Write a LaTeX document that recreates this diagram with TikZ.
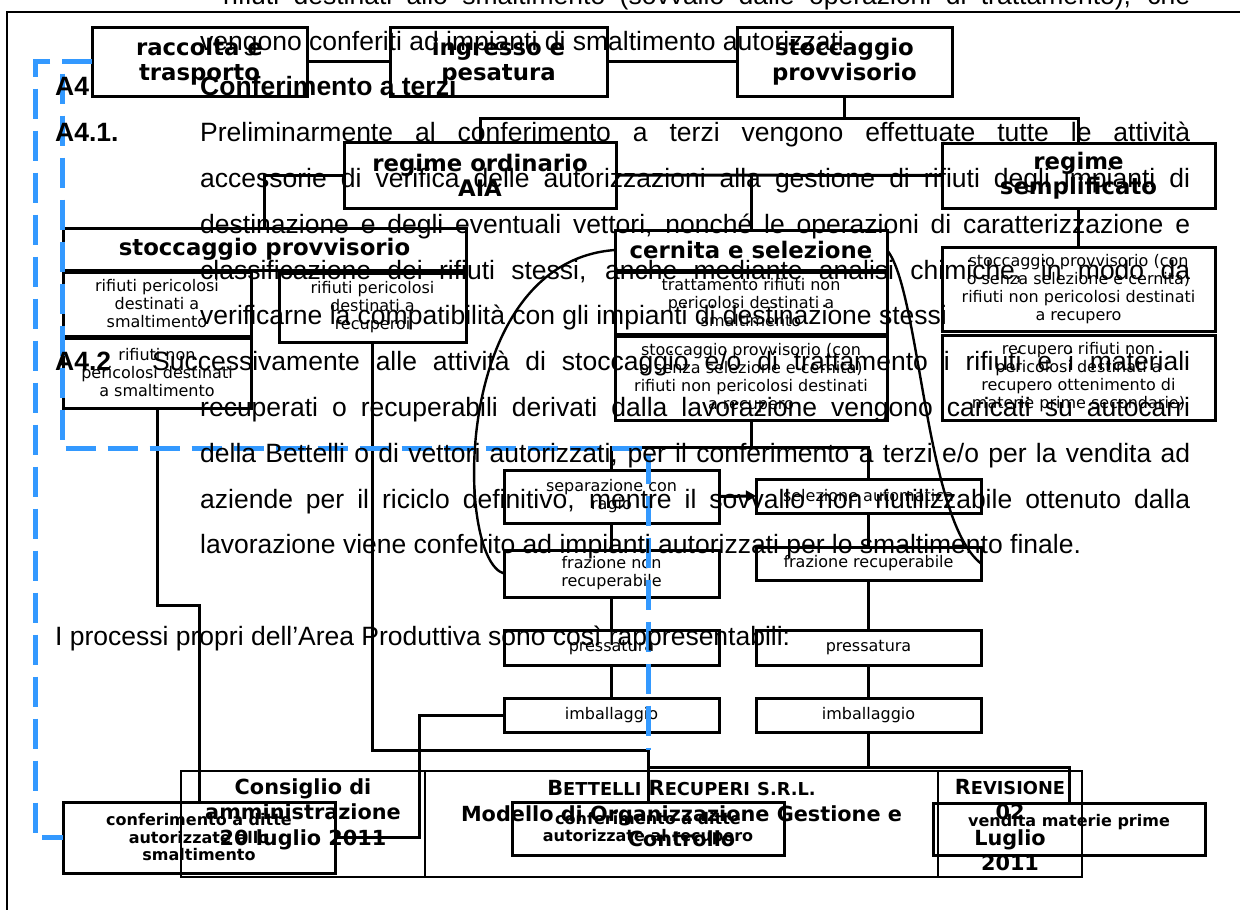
\documentclass[tikz,border=0pt]{standalone}
\usepackage{fontspec}
\setmainfont{Liberation Sans}
\newfontfamily\vfont{DejaVu Sans}
\usetikzlibrary{arrows.meta}
\definecolor{dashblue}{RGB}{51,153,255}
\newcommand{\smc}[1]{{\fontsize{17.8}{25.5}\selectfont #1}}

\begin{document}
\begin{tikzpicture}[
          x = 1pt, y = -1pt,
          > = {Triangle[length=10pt,width=11pt]},
  box/.style = {draw, line width=3pt, fill=white, inner sep=0pt, outer sep=0pt,
                anchor=north west, align=center},% every box of the scheme
   wh/.style 2 args = {minimum width=#1pt, minimum height=#2pt},
title/.style = {box, font=\vfont\bfseries\fontsize{22.8}{25}\selectfont},
 note/.style = {box, font=\vfont\fontsize{16}{18}\selectfont},
 dest/.style = {box, font=\vfont\bfseries\fontsize{16}{17.5}\selectfont},
 link/.style = {line width=3pt},
 arc/.style  = {line width=2.4pt},
 flow/.style = {dashblue, line width=5pt, dash pattern=on 30pt off 12pt},
 body/.style = {anchor=base west, inner sep=0pt, font=\fontsize{26.5}{46}\selectfont},
 foot/.style = {inner sep=0pt, align=center, font=\vfont\bfseries\fontsize{20.8}{25.5}\selectfont},
]
\useasboundingbox (0,0) rectangle (1240,910);
\clip (0,0) rectangle (1240,910);
% page frame
\draw[line width=2pt] (7,12) rectangle (1260,930);

% first row
\node[title, wh={215}{69}] (racc) at (92,27)  {raccolta e\\trasporto};
\node[title, wh={217}{69}] (ingr) at (390,27) {ingresso e\\pesatura};
\node[title, wh={215}{69}] (stoc) at (737,27) {stoccaggio\\provvisorio};
\node[title, wh={272}{66}] (ord)  at (344,142) {regime ordinario\\AIA};
\node[title, wh={273}{65}] (semp) at (942,143) {regime\\semplificato};
% regime ordinario
\node[title, wh={403}{42}] (lhead) at (63,228)  {stoccaggio provvisorio};
\node[note, wh={188}{64}]  (lpsm)  at (63,272)  {rifiuti pericolosi\\destinati a\\smaltimento};
\node[note, wh={188}{70}]  (lnpsm) at (63,338)  {rifiuti non\\pericolosi destinati\\a smaltimento};
\node[note, wh={187}{69}]  (lprec) at (279,273) {rifiuti pericolosi\\destinati a\\recuperoi};
\node[title, wh={272}{40}] (chead) at (615,230) {cernita e selezione};
\node[note, wh={272}{62}]  (ctrat) at (615,272) {trattamento rifiuti non\\pericolosi destinati a\\smaltimento};
\node[note, wh={272}{84}]  (cstoc) at (615,336) {stoccaggio provvisorio (con\\o senza selezione e cernita)\\rifiuti non pericolosi destinati\\a recupero};
% regime semplificato
\node[note, wh={273}{84}]  (rstoc) at (942,247) {stoccaggio provvisorio (con\\o senza selezione e cernita)\\rifiuti non pericolosi destinati\\a recupero};
\node[note, wh={273}{85}]  (rrec)  at (942,335) {recupero rifiuti non\\pericolosi destinati a\\recupero ottenimento di\\materie prime secondarie)};
% lines of work
\node[note, wh={215}{53}] (sep)    at (504,470) {separazione con\\ragio};
\node[note, wh={225}{34}] (sel)    at (756,479) {selezione automatica};
\node[note, wh={215}{47}] (fnr)    at (504,550) {frazione non\\recuperabile};
\node[note, wh={225}{33}] (fr)     at (756,547) {frazione recuperabile};
\node[note, wh={215}{35}] (lpress) at (504,630) {pressatura};
\node[note, wh={225}{35}] (rpress) at (756,630) {pressatura};
\node[note, wh={215}{34}] (limb)   at (504,698) {imballaggio};
\node[note, wh={225}{34}] (rimb)   at (756,698) {imballaggio};
% destinations
\node[dest, wh={272}{71}] (csm)  at (63,802)  {conferimento a ditte\\autorizzate allo\\smaltimento};
\node[dest, wh={272}{53}] (crec) at (512,802) {conferimento a ditte\\autorizzate al recupero};
\node[dest, wh={272}{52}] (vend) at (933,803) {vendita materie prime\\\mbox{}};

% junctions
\path (stoc.south)  ++(0,22)   coordinate (j1)
      (cstoc.south) ++(0,27)   coordinate (j5)
      (lnpsm.south) ++(0,197)  coordinate (j3)
      (lprec.south) ++(0,408)  coordinate (j4)
      (limb.west)   ++(-85,0)  coordinate (j6)
      (rimb.south)  ++(0,35)   coordinate (j7);

% connections
\draw[link] (racc) -- (ingr);
\draw[link] (ingr) -- (stoc);
\draw[link] (stoc.south) -- (j1);
\draw[link] (ord.north) |- (j1) -| (semp.north);
\draw[link] (lhead.north) |- (ord.west);
\draw[link] (ord.east) -- (semp.west);
\draw[link] (chead.north) -- (chead.north |- ord.east);
\draw[link] (cstoc.south) -- (j5);
\draw[link] (sep.north) |- (j5) -| (sel.north);
\foreach \a/\b in {semp/rstoc, sep/fnr, sel/fr, fnr/lpress, fr/rpress, lpress/limb, rpress/rimb}
  \draw[link] (\a.south) -- (\b.north);
\draw[link,->] (sep.east) -- (sel.west);
\draw[link] (lnpsm.south) -- (j3) -| (csm.north);
\draw[link] (lprec.south) -- (j4) -| (crec.north);
\draw[link] (limb.west) -- (j6) |- (csm.east);
\draw[link] (rimb.south) -- (j7);
\draw[link] (crec.north |- j7) -| (vend.north);

% curved links
\draw[arc] (chead.west) .. controls (450,262) and (455,560) .. (fnr.west);
\draw[arc] (chead.east) .. controls (920,290) and (925,520) .. (fr.east);

% dashed paths
\coordinate (bl) at (35,837.5);
\coordinate (bt) at (62,61.5);
\coordinate (bm) at (648,448);
\draw[flow] (racc.west) -| (bl) -- (csm.west);
\draw[flow, dash phase=30pt] (bt) |- (bm) -- (crec.north |- j4);

% footer table
\draw[line width=2pt] (181,771) rectangle (1082,877)
                      (425,771) -- (425,877)
                      (938,771) -- (938,877);
\node[foot] (fcons) at (303,814)   {Consiglio di\\amministrazione\\20 luglio 2011};
\node[foot] (fname) at (681.5,814) {B\smc{ETTELLI} R\smc{ECUPERI} \smc{S.R.L.}\\Modello di Organizzazione Gestione e\\Controllo};
\node[foot] (frev)  at (1010,825)  {R\smc{EVISIONE}\\02\\Luglio\\2011};

% text of the page
\node[body] (t0) at (223,4.5) {\makebox[967pt][s]{rifiuti destinati allo smaltimento (sovvallo dalle operazioni di trattamento), che}};
\node[body] (t1) at (200,50) {vengono conferiti ad impianti di smaltimento autorizzati};
\node[body] (h2) at (55,95.8)   {\bfseries A4};
\node[body] (t2) at (200,95.8)  {\bfseries Conferimento a terzi};
\node[body] (h3) at (55,141.6)  {\bfseries A4.1.};
\node[body] (h8) at (55,370.6)  {\bfseries A4.2};
\foreach \k/\words in {
   3/{Preliminarmente al conferimento a terzi vengono effettuate tutte le attività},
   4/{accessorie di verifica delle autorizzazioni alla gestione di rifiuti degli impianti di},
   5/{destinazione e degli eventuali vettori, nonché le operazioni di caratterizzazione e},
   6/{classificazione dei rifiuti stessi, anche mediante analisi chimiche, in modo da},
   9/{recuperati o recuperabili derivati dalla lavorazione vengono caricati su autocarri},
  10/{della Bettelli o di vettori autorizzati, per il conferimento a terzi e/o per la vendita ad},
  11/{aziende per il riciclo definitivo, mentre il sovvallo non riutilizzabile ottenuto dalla}}
  \node[body] (t\k) at (200,4.2+45.8*\k) {\makebox[990pt][s]{\words}};
\node[body] (t7)  at (200,324.8) {verificarne la compatibilità con gli impianti di destinazione stessi};
\node[body] (t8)  at (152,370.6) {\makebox[1038pt][s]{Successivamente alle attività di stoccaggio e/o di trattamento i rifiuti e i materiali}};
\node[body] (t12) at (200,553.8) {lavorazione viene conferito ad impianti autorizzati per lo smaltimento finale.};
\node[body] (t14) at (55,645.4)  {I processi propri dell’Area Produttiva sono così rappresentabili:};
\end{tikzpicture}
\end{document}
